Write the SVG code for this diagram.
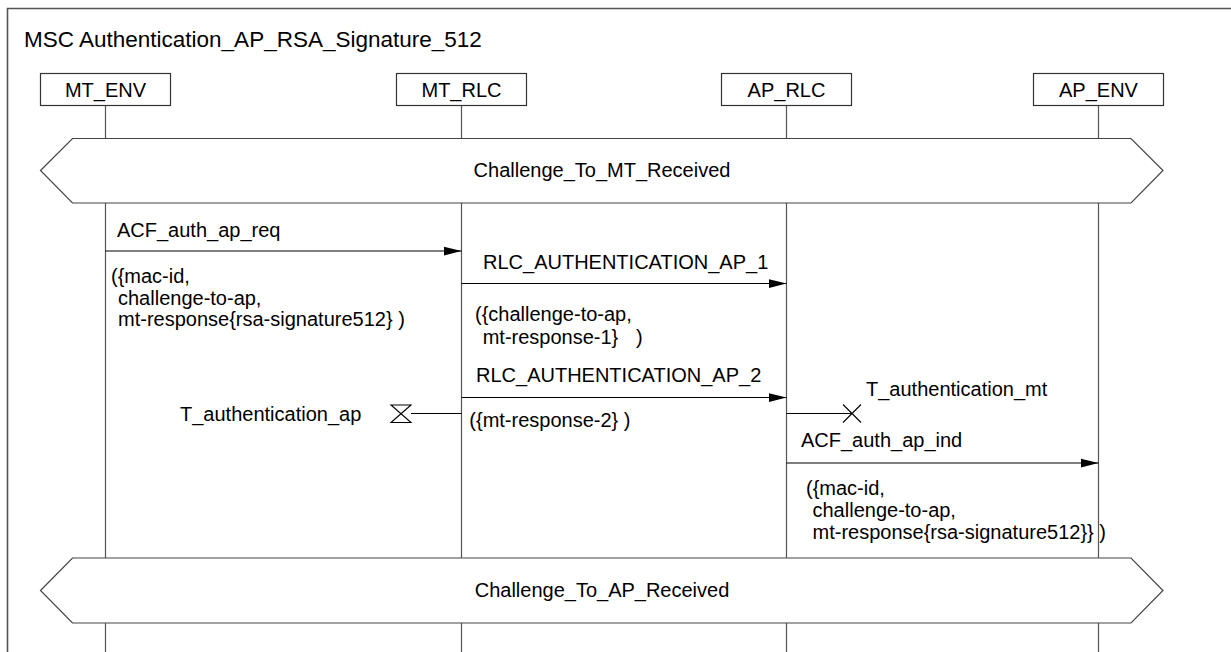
<svg xmlns="http://www.w3.org/2000/svg" width="1231" height="652" viewBox="0 0 1231 652">
<style>
text{font-family:"Liberation Sans",Arial,sans-serif;font-size:20px;fill:#000}
.title{font-size:22.5px}
.mid{text-anchor:middle}
.box{fill:#fff;stroke:#333;stroke-width:1.2}
.life{stroke:#555;stroke-width:1.2;fill:none}
.cond{fill:#fff;stroke:#444;stroke-width:1.2}
.msg{stroke:#000;stroke-width:1.2;fill:none}
.tim{stroke:#000;stroke-width:1.1;fill:none}
</style>
<defs>
<marker id="ah" markerUnits="userSpaceOnUse" markerWidth="18" markerHeight="10" refX="18" refY="4.5" orient="auto" viewBox="0 0 18 9">
<path d="M0,0 L18,4.5 L0,9 z" fill="#000"/>
</marker>
</defs>
<rect width="1231" height="652" fill="#fff"/>
<g id="frame">
<path d="M7.5,660 V8.5 H1240" fill="none" stroke="#555" stroke-width="1.6"/>
<text class="title" x="24" y="47">MSC Authentication_AP_RSA_Signature_512</text>
</g>
<g id="MT_ENV">
<line class="life" x1="105.5" y1="106" x2="105.5" y2="652"/>
<rect class="box" x="40.5" y="73.5" width="130" height="32"/>
<text class="mid" x="105.5" y="96.5">MT_ENV</text>
</g>
<g id="MT_RLC">
<line class="life" x1="461.5" y1="106" x2="461.5" y2="652"/>
<rect class="box" x="396.5" y="73.5" width="130" height="32"/>
<text class="mid" x="461.5" y="96.5">MT_RLC</text>
</g>
<g id="AP_RLC">
<line class="life" x1="786.5" y1="106" x2="786.5" y2="652"/>
<rect class="box" x="721.5" y="73.5" width="130" height="32"/>
<text class="mid" x="786.5" y="96.5">AP_RLC</text>
</g>
<g id="AP_ENV">
<line class="life" x1="1098.5" y1="106" x2="1098.5" y2="652"/>
<rect class="box" x="1033.5" y="73.5" width="130" height="32"/>
<text class="mid" x="1098.5" y="96.5">AP_ENV</text>
</g>
<g id="cond1">
<path class="cond" d="M40.5,170.5 L72.5,138.5 H1131 L1163,170.5 L1131,203 H72.5 Z"/>
<text class="mid" x="602" y="177">Challenge_To_MT_Received</text>
</g>
<g id="cond2">
<path class="cond" d="M40.5,590.5 L72.5,558 H1131 L1163,590.5 L1131,623 H72.5 Z"/>
<text class="mid" x="602" y="597">Challenge_To_AP_Received</text>
</g>
<g id="timer_ap">
<path class="tim" d="M391,405 H411 L391,422.5 H411 Z"/>
<text x="180" y="421">T_authentication_ap</text>
</g>
<g id="timer_mt">
<path class="tim" d="M843,404.5 L861,422.5 M861,404.5 L843,422.5"/>
<text x="866" y="396">T_authentication_mt</text>
</g>
<g id="connectors">
<line class="msg" x1="105.5" y1="251" x2="461.5" y2="251" marker-end="url(#ah)"/>
<line class="msg" x1="461.5" y1="283.5" x2="786.5" y2="283.5" marker-end="url(#ah)"/>
<line class="msg" x1="461.5" y1="397.5" x2="786.5" y2="397.5" marker-end="url(#ah)"/>
<line class="msg" x1="786.5" y1="463" x2="1098.5" y2="463" marker-end="url(#ah)"/>
<line class="tim" x1="411" y1="413.5" x2="461.5" y2="413.5"/>
<line class="tim" x1="786.5" y1="413.5" x2="852" y2="413.5"/>
</g>
<g id="labels">
<text x="117" y="237">ACF_auth_ap_req</text>
<text x="111" y="283">({mac-id,</text>
<text x="118" y="304.5">challenge-to-ap,</text>
<text x="118" y="326">mt-response{rsa-signature512} )</text>
<text x="483" y="268.5">RLC_AUTHENTICATION_AP_1</text>
<text x="475" y="320.5">({challenge-to-ap,</text>
<text x="482.7" y="343.5">mt-response-1}<tspan x="636">)</tspan></text>
<text x="476" y="382">RLC_AUTHENTICATION_AP_2</text>
<text x="469.3" y="426.5">({mt-response-2} )</text>
<text x="801" y="447">ACF_auth_ap_ind</text>
<text x="806" y="495">({mac-id,</text>
<text x="812.5" y="517">challenge-to-ap,</text>
<text x="812.5" y="539">mt-response{rsa-signature512}} )</text>
</g>
</svg>
